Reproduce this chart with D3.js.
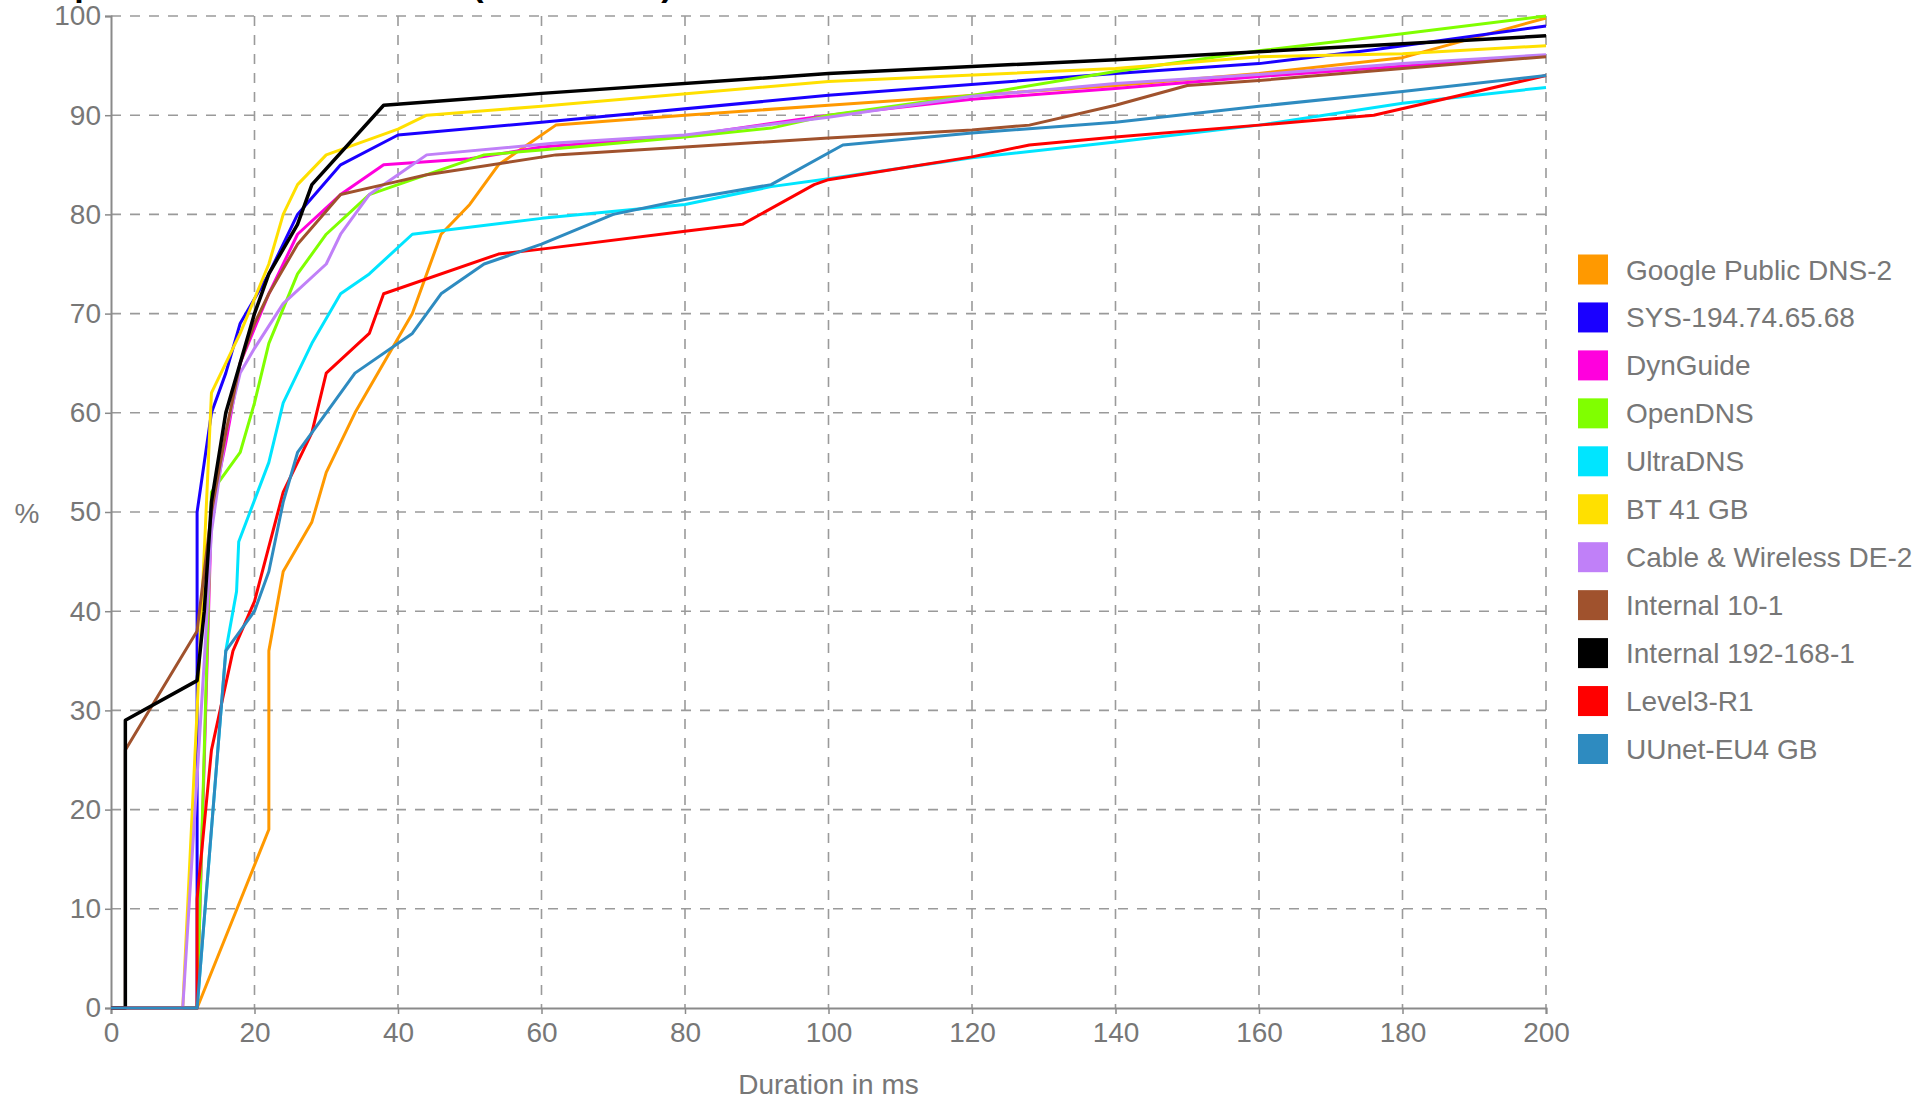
<!DOCTYPE html>
<html>
<head>
<meta charset="utf-8">
<script src="https://cdn.jsdelivr.net/npm/d3@7/dist/d3.min.js"></script>
<style>
  html, body { margin: 0; padding: 0; background: #fff; }
  svg { display: block; }
  text { font-family: "Liberation Sans", Arial, Helvetica, sans-serif; }
</style>
</head>
<body>
<svg id="chart" width="1928" height="1105"></svg>
<script>
// ---------- data ----------
const seriesNames = ["Google Public DNS-2", "SYS-194.74.65.68", "DynGuide", "OpenDNS", "UltraDNS",
  "BT 41 GB", "Cable & Wireless DE-2", "Internal 10-1", "Internal 192-168-1", "Level3-R1", "UUnet-EU4 GB"];
const seriesColors = ["#ff9900", "#1a00ff", "#ff00dd", "#80ff00", "#00e5ff",
  "#ffe000", "#c080f8", "#a0522d", "#000000", "#ff0000", "#2e8bc0"];

const googleDNS2 = [[0,0],[12,0],[22,18],[22,36],[24,44],[28,49],[30,54],[34,60],[42,70],[46,78],[50,81],[54,85],[62,89],[80,90],[100,91],[140,93],[160,94.2],[180,95.8],[200,99.8]];
const sys194 = [[0,0],[12,0],[12,50],[14,60],[16,64],[18,69],[22,74],[26,80],[32,85],[40,88],[60,89.3],[100,92],[140,94.2],[160,95.2],[176,96.6],[200,99]];
const dynGuide = [[0,0],[12,0],[14,50],[16,57],[18,65],[22,72],[26,78],[32,82],[38,85],[50,85.6],[60,86.8],[80,87.9],[100,90],[120,91.6],[140,92.7],[160,93.9],[200,96]];
const openDNS = [[0,0],[12,0],[14,52],[18,56],[20,61],[22,67],[26,74],[30,78],[36,82],[40,83],[52,86],[60,86.5],[80,87.8],[92,88.7],[100,90],[120,92],[140,94.4],[160,96.5],[180,98.2],[200,100]];
const ultraDNS = [[0,0],[12,0],[16,36],[17.5,42],[17.8,47],[22,55],[24,61],[28,67],[32,72],[36,74],[42,78],[60,79.6],[80,81],[92,82.8],[100,83.6],[120,85.7],[140,87.3],[160,89],[180,91.2],[200,92.8]];
const bt41 = [[0,0],[10,0],[12,30],[14,62],[18,68],[22,75],[24,80],[26,83],[30,86],[40,88.6],[44,90],[60,90.9],[100,93.4],[140,94.7],[160,95.9],[180,96.2],[200,97]];
const cableWireless = [[0,0],[10,0],[13,35],[14,48],[16,58],[18,64],[20,66.5],[24,71],[30,75],[32,78],[36,82],[40,84],[44,86],[62,87.2],[80,88],[100,89.8],[120,91.9],[140,93.2],[160,94.1],[180,95.2],[200,96.1]];
const internal10 = [[0,0],[2,0],[2,26],[12,38],[14,50],[16,58],[18,65],[20,69],[22,72],[26,77],[32,82],[38,83],[44,84],[62,86],[80,86.8],[100,87.7],[120,88.5],[128,89],[140,91],[150,93],[160,93.5],[180,94.7],[200,95.9]];
const internal192 = [[0,0],[2,0],[2,29],[12,33],[13,40],[14,51],[16,60],[18,65],[20,70],[22,74],[26,79],[28,83],[38,91],[60,92.2],[100,94.2],[140,95.6],[200,98]];
const level3 = [[0,0],[12,0],[12,11],[14,26],[17,36],[20,41],[24,52],[28,58],[30,64],[36,68],[38,72],[54,76],[60,76.5],[80,78.3],[88,79],[98,83],[100,83.5],[120,85.8],[128,87],[140,87.8],[160,89],[176,90],[200,94]];
const uunet = [[0,0],[12,0],[16,36],[20,40],[22,44],[24,51],[26,56],[30,60],[34,64],[42,68],[46,72],[52,75],[60,77],[70,80],[80,81.5],[92,83],[102,87],[120,88.2],[140,89.3],[160,90.9],[180,92.4],[200,94]];

const seriesValues = [googleDNS2, sys194, dynGuide, openDNS, ultraDNS, bt41, cableWireless, internal10, internal192, level3, uunet];

const xTicks = [0, 20, 40, 60, 80, 100, 120, 140, 160, 180, 200];
const yTicks = [0, 10, 20, 30, 40, 50, 60, 70, 80, 90, 100];
const xTitle = "Duration in ms";
const yTitle = "%";
const chartTitle = "Response Time Distribution (cumulative)";

// ---------- layout ----------
const svg = d3.select("#chart");
const plotLeft = 111, plotRight = 1546, plotTop = 16, plotBottom = 1008;
const x = d3.scaleLinear().domain([0, 200]).range([plotLeft, plotRight]);
const y = d3.scaleLinear().domain([0, 100]).range([plotBottom, plotTop]);
const labelColor = "#777";
const gridColor = "#9a9a9a";

// title (mostly cut off above the view, as in the reference)
svg.append("text").attr("x", 12).attr("y", -4)
  .attr("font-size", 34).attr("font-weight", "bold").attr("fill", "#000")
  .text(chartTitle);

// grid
const grid = svg.append("g");
grid.selectAll("line.v").data(xTicks.filter(d => d > 0)).join("line")
  .attr("class", "v")
  .attr("x1", d => x(d)).attr("x2", d => x(d)).attr("y1", plotTop).attr("y2", plotBottom)
  .attr("stroke", gridColor).attr("stroke-width", 1.6).attr("stroke-dasharray", "10,9");
grid.selectAll("line.h").data(yTicks.filter(d => d > 0)).join("line")
  .attr("class", "h")
  .attr("x1", plotLeft).attr("x2", plotRight).attr("y1", d => y(d)).attr("y2", d => y(d))
  .attr("stroke", gridColor).attr("stroke-width", 1.6).attr("stroke-dasharray", "10,9");

// axes
const xAxis = d3.axisBottom(x).tickValues(xTicks).tickSize(6).tickPadding(8).tickFormat(d3.format("d"));
const yAxis = d3.axisLeft(y).tickValues(yTicks).tickSize(6).tickPadding(4).tickFormat(d3.format("d"));
const gx = svg.append("g").attr("transform", `translate(0,${plotBottom})`).call(xAxis);
const gy = svg.append("g").attr("transform", `translate(${plotLeft},0)`).call(yAxis);
[gx, gy].forEach(g => {
  g.select(".domain").attr("stroke", "#8a8a8a").attr("stroke-width", 2);
  g.selectAll(".tick line").attr("stroke", "#8a8a8a").attr("stroke-width", 1.5);
  g.selectAll(".tick text").attr("fill", labelColor).attr("font-size", 28)
    .attr("font-family", "'Liberation Sans', Arial, sans-serif");
});

// axis titles
svg.append("text").attr("x", (plotLeft + plotRight) / 2).attr("y", 1094).attr("text-anchor", "middle")
  .attr("font-size", 28).attr("fill", labelColor).text(xTitle);
svg.append("text").attr("x", 27).attr("y", 523).attr("text-anchor", "middle")
  .attr("font-size", 28).attr("fill", labelColor).text(yTitle);

// lines
const line = d3.line().x(d => x(d[0])).y(d => y(d[1]));
const lines = svg.append("g");
seriesValues.forEach((vals, i) => {
  lines.append("path").datum(vals)
    .attr("fill", "none")
    .attr("stroke", seriesColors[i])
    .attr("stroke-width", seriesColors[i] === "#000000" ? 3.5 : 3)
    .attr("stroke-linejoin", "round")
    .attr("d", line);
});

// legend
const legend = svg.append("g");
const legY0 = 269.5, legStep = 47.95;
seriesNames.forEach((name, i) => {
  const cy = legY0 + i * legStep;
  legend.append("rect").attr("x", 1578).attr("y", cy - 15).attr("width", 30).attr("height", 30)
    .attr("fill", seriesColors[i]);
  legend.append("text").attr("x", 1626).attr("y", cy + 10)
    .attr("font-size", 28).attr("fill", labelColor).text(name);
});
</script>
</body>
</html>
